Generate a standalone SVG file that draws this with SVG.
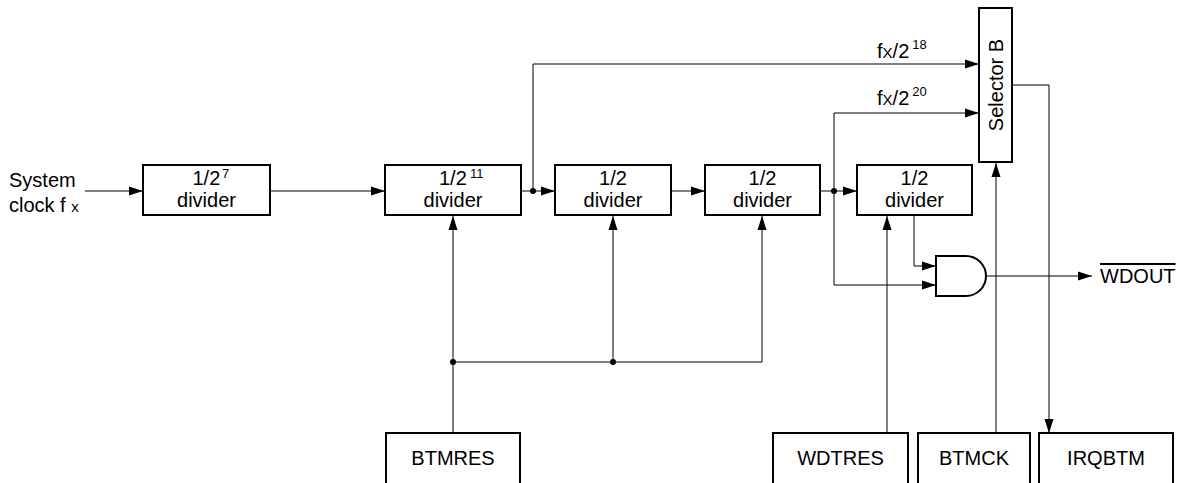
<svg xmlns="http://www.w3.org/2000/svg" width="1188" height="483" viewBox="0 0 1188 483">
<style>
  .box{fill:#fff;stroke:#000;stroke-width:2}
  .t{font-family:"Liberation Sans",Arial,sans-serif;font-size:20px;fill:#000}
  .sup{font-size:13px}
  .sub{font-size:15px}
  .c{fill:none;stroke:#000;stroke-width:1}
  .dot{fill:#000}
</style>
<defs>
  <marker id="arr" markerUnits="userSpaceOnUse" markerWidth="15" markerHeight="11" refX="14" refY="5.5" orient="auto">
    <path d="M0,1 L14,5.5 L0,10 z" fill="#000"/>
  </marker>
</defs>
<rect width="1188" height="483" fill="#fff"/>

<g id="connectors">
  <path class="c" d="M85,191 H143" marker-end="url(#arr)"/>
  <path class="c" d="M270,191 H385" marker-end="url(#arr)"/>
  <path class="c" d="M521,191 H555" marker-end="url(#arr)"/>
  <path class="c" d="M533,191 V64 H979" marker-end="url(#arr)"/>
  <path class="c" d="M671,191 H705" marker-end="url(#arr)"/>
  <path class="c" d="M820,191 H857" marker-end="url(#arr)"/>
  <path class="c" d="M834,191 V113 H979" marker-end="url(#arr)"/>
  <path class="c" d="M834,191 V285 H936" marker-end="url(#arr)"/>
  <path class="c" d="M914,215 V266 H936" marker-end="url(#arr)"/>
  <path class="c" d="M987,276 H1092" marker-end="url(#arr)"/>
  <path class="c" d="M1012,85 H1049 V433" marker-end="url(#arr)"/>
  <path class="c" d="M453,433 V216" marker-end="url(#arr)"/>
  <path class="c" d="M453,362 H762 V216" marker-end="url(#arr)"/>
  <path class="c" d="M613,362 V216" marker-end="url(#arr)"/>
  <path class="c" d="M887,433 V216" marker-end="url(#arr)"/>
  <path class="c" d="M996,433 V163" marker-end="url(#arr)"/>
  <circle class="dot" cx="533" cy="191" r="3"/>
  <circle class="dot" cx="834" cy="191" r="3"/>
  <circle class="dot" cx="453" cy="362" r="3"/>
  <circle class="dot" cx="613" cy="362" r="3"/>
  <text class="t" x="877" y="58">f<tspan class="sub">X</tspan>/2<tspan class="sup" dx="3" dy="-9">18</tspan></text>
  <text class="t" x="877" y="105">f<tspan class="sub">X</tspan>/2<tspan class="sup" dx="3" dy="-9">20</tspan></text>
</g>

<g id="input">
  <text class="t" x="9" y="187">System</text>
  <text class="t" x="9" y="212">clock f <tspan class="sub">x</tspan></text>
</g>

<g id="div7">
  <rect class="box" x="143" y="165" width="127" height="50"/>
  <text class="t" x="192.5" y="185">1/2</text>
  <text class="t sup" x="222" y="178">7</text>
  <text class="t" x="206.5" y="207" text-anchor="middle">divider</text>
</g>

<g id="div11">
  <rect class="box" x="385" y="165" width="136" height="50"/>
  <text class="t" x="439" y="185">1/2</text>
  <text class="t sup" x="470" y="178">11</text>
  <text class="t" x="453" y="207" text-anchor="middle">divider</text>
</g>

<g id="div2a">
  <rect class="box" x="555" y="165" width="116" height="50"/>
  <text class="t" x="613" y="185" text-anchor="middle">1/2</text>
  <text class="t" x="613" y="207" text-anchor="middle">divider</text>
</g>

<g id="div2b">
  <rect class="box" x="705" y="165" width="115" height="50"/>
  <text class="t" x="762.5" y="185" text-anchor="middle">1/2</text>
  <text class="t" x="762.5" y="207" text-anchor="middle">divider</text>
</g>

<g id="div2c">
  <rect class="box" x="857" y="165" width="115" height="50"/>
  <text class="t" x="914.5" y="185" text-anchor="middle">1/2</text>
  <text class="t" x="914.5" y="207" text-anchor="middle">divider</text>
</g>

<g id="selectorB">
  <rect class="box" x="979" y="8" width="33" height="154"/>
  <text class="t" transform="translate(1003,85) rotate(-90)" text-anchor="middle">Selector B</text>
</g>

<g id="and">
  <path class="box" d="M936,256 H966 A20,20 0 0 1 966,296 H936 Z"/>
</g>

<g id="wdout">
  <text class="t" x="1100" y="283" text-decoration="overline">WDOUT</text>
</g>

<g id="btmres">
  <rect class="box" x="386" y="433" width="134" height="52"/>
  <text class="t" x="453" y="465" text-anchor="middle">BTMRES</text>
</g>

<g id="wdtres">
  <rect class="box" x="773" y="433" width="135" height="52"/>
  <text class="t" x="840.5" y="465" text-anchor="middle">WDTRES</text>
</g>

<g id="btmck">
  <rect class="box" x="918" y="433" width="112" height="52"/>
  <text class="t" x="974" y="465" text-anchor="middle">BTMCK</text>
</g>

<g id="irqbtm">
  <rect class="box" x="1039" y="433" width="134" height="52"/>
  <text class="t" x="1106" y="465" text-anchor="middle">IRQBTM</text>
</g>
</svg>
